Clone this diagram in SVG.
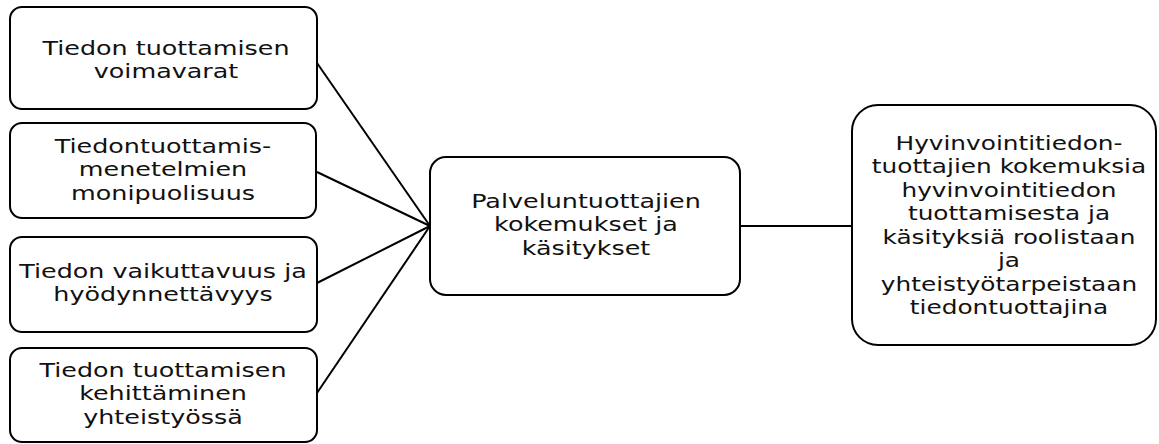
<svg xmlns="http://www.w3.org/2000/svg" width="1159" height="444" viewBox="0 0 1159 444">
<style>
.box{fill:#fff;stroke:#000;stroke-width:2}
.t{font-family:"DejaVu Sans",Verdana,sans-serif;font-size:20px;fill:#111;text-anchor:middle}
.c{stroke:#000;stroke-width:2;fill:none}
</style>
<rect width="1159" height="444" fill="#fff"/>
<g id="connectors">
<line class="c" x1="317" y1="63" x2="430" y2="226"/>
<line class="c" x1="317" y1="172" x2="430" y2="226"/>
<line class="c" x1="317" y1="283" x2="430" y2="226"/>
<line class="c" x1="317" y1="393" x2="430" y2="226"/>
<line class="c" x1="740" y1="226" x2="852" y2="226"/>
</g>
<g id="n1">
<rect class="box" x="10" y="7" width="307" height="102" rx="12"/>
<g transform="translate(166,0) scale(1.27,1)"><text class="t" x="0" y="55">Tiedon tuottamisen</text><text class="t" x="0" y="78.5">voimavarat</text></g>
</g>
<g id="n2">
<rect class="box" x="10" y="123" width="306" height="95" rx="12"/>
<g transform="translate(163,0) scale(1.27,1)"><text class="t" x="0" y="153">Tiedontuottamis-</text><text class="t" x="0" y="176.5">menetelmien</text><text class="t" x="0" y="200">monipuolisuus</text></g>
</g>
<g id="n3">
<rect class="box" x="10" y="237" width="307" height="95" rx="12"/>
<g transform="translate(163,0) scale(1.27,1)"><text class="t" x="0" y="278">Tiedon vaikuttavuus ja</text><text class="t" x="0" y="301.5">hyödynnettävyys</text></g>
</g>
<g id="n4">
<rect class="box" x="10" y="348" width="307" height="94" rx="12"/>
<g transform="translate(163,0) scale(1.27,1)"><text class="t" x="0" y="377">Tiedon tuottamisen</text><text class="t" x="0" y="400.4">kehittäminen</text><text class="t" x="0" y="423.8">yhteistyössä</text></g>
</g>
<g id="n5">
<rect class="box" x="430" y="157" width="310" height="138" rx="16"/>
<g transform="translate(586,0) scale(1.27,1)"><text class="t" x="0" y="208">Palveluntuottajien</text><text class="t" x="0" y="231.5">kokemukset ja</text><text class="t" x="0" y="255">käsitykset</text></g>
</g>
<g id="n6">
<rect class="box" x="852" y="105" width="304" height="240" rx="26"/>
<g transform="translate(1009,0) scale(1.24,1)"><text class="t" x="0" y="150">Hyvinvointitiedon-</text><text class="t" x="0" y="173.5">tuottajien kokemuksia</text><text class="t" x="0" y="197">hyvinvointitiedon</text><text class="t" x="0" y="220.5">tuottamisesta ja</text><text class="t" x="0" y="244">käsityksiä roolistaan</text><text class="t" x="0" y="267.5">ja</text><text class="t" x="0" y="291">yhteistyötarpeistaan</text><text class="t" x="0" y="314.5">tiedontuottajina</text></g>
</g>
</svg>
